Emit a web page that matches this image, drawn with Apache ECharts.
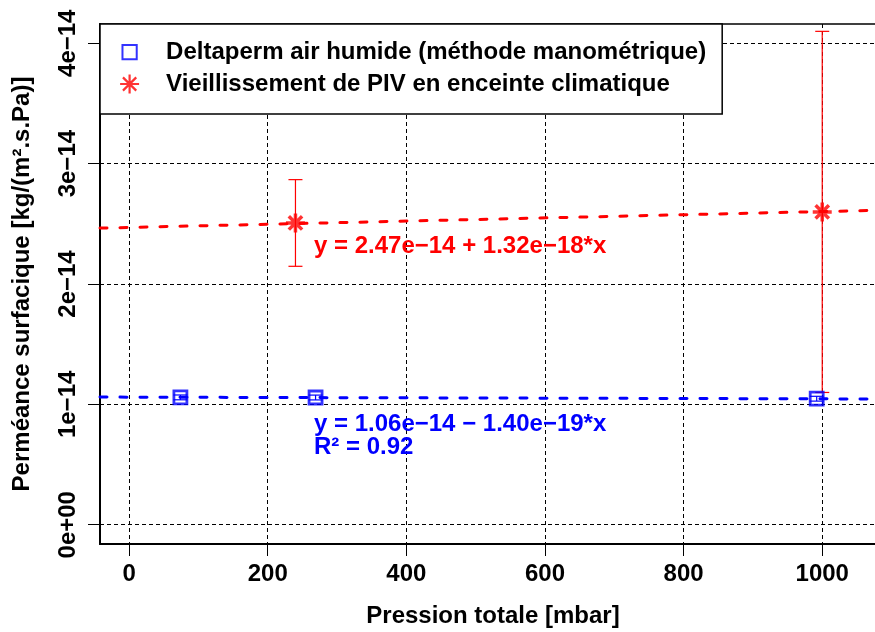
<!DOCTYPE html>
<html>
<head>
<meta charset="utf-8">
<script src="https://cdn.jsdelivr.net/npm/echarts@6/dist/echarts.min.js"></script>
<style>
html,body{margin:0;padding:0;background:#fff;}
#chart{width:875px;height:632px;}
</style>
</head>
<body>
<div id="chart"></div>
<script>
// ---- data ----
const xTicks = [0, 200, 400, 600, 800, 1000];
const xTickLabels = ['0', '200', '400', '600', '800', '1000'];
const yTicks = [0, 1e-14, 2e-14, 3e-14, 4e-14];
const yTickLabels = ['0e+00', '1e\u221214', '2e\u221214', '3e\u221214', '4e\u221214'];

const blueName = 'Deltaperm air humide (méthode manométrique)';
const blueX = [74, 269, 992];
const blueY = [1.058e-14, 1.057e-14, 1.047e-14];
const blueErr = [0.02e-14, 0.02e-14, 0.02e-14];

const redName = 'Vieillissement de PIV en enceinte climatique';
const redX = [240, 1000];
const redY = [2.507e-14, 2.599e-14];
const redErr = [0.36e-14, 1.50e-14];

const blueFitX = [-42, 1092];
const blueFitY = [1.0606e-14, 1.0447e-14];
const redFitX = [-42, 1092];
const redFitY = [2.4645e-14, 2.6141e-14];

const redEq = 'y = 2.47e\u221214 + 1.32e\u221218*x';
const blueEq = 'y = 1.06e\u221214 \u2212 1.40e\u221219*x';
const blueR2 = 'R\u00b2 = 0.92';

const xTitle = 'Pression totale [mbar]';
const yTitle = 'Perméance surfacique [kg/(m\u00b2.s.Pa)]';

// ---- build ----
const FONT = '"Liberation Sans", Arial, Helvetica, sans-serif';
const FS = 24;
const BLUE = '#0000ff', RED = '#ff0000';
const starPath = 'path://M0,10L20,10M10,0L10,20M3,3L17,17M3,17L17,3';
const legendSquare = 'path://M0,0L0,0M20,20L20,20M2.5,2.5L17.5,2.5L17.5,17.5L2.5,17.5Z';

const zip = (a, b) => a.map((v, i) => [v, b[i]]);
const errData = (xs, ys, es) => xs.map((x, i) => [x, ys[i] - es[i], ys[i] + es[i]]);
const pick = (ticks, labels) => function (v) {
  for (let i = 0; i < ticks.length; i++) if (Math.abs(v - ticks[i]) < Math.abs(ticks[1] - ticks[0]) * 1e-6) return labels[i];
  return '';
};

function errRender(color) {
  return function (params, api) {
    const x = api.value(0), lo = api.value(1), hi = api.value(2);
    const pt = api.coord([x, hi]), pb = api.coord([x, lo]);
    const w = 7;
    const st = { stroke: color, lineWidth: 1.2 };
    return {
      type: 'group',
      children: [
        { type: 'line', shape: { x1: pt[0], y1: pt[1], x2: pb[0], y2: pb[1] }, style: st },
        { type: 'line', shape: { x1: pt[0] - w, y1: pt[1], x2: pt[0] + w, y2: pt[1] }, style: st },
        { type: 'line', shape: { x1: pb[0] - w, y1: pb[1], x2: pb[0] + w, y2: pb[1] }, style: st }
      ]
    };
  };
}

const gridLine = { show: true, lineStyle: { color: '#000', width: 1, type: [4, 3] } };

const chart = echarts.init(document.getElementById('chart'), null, { renderer: 'canvas' });
chart.setOption({
  animation: false,
  backgroundColor: '#fff',
  textStyle: { fontFamily: FONT },
  grid: {
    left: 100, right: -11, top: 24, bottom: 88,
    show: true, borderColor: '#000', borderWidth: 1.5,
    containLabel: false, outerBoundsMode: 'none'
  },
  xAxis: {
    type: 'value', min: -42, max: 1092,
    name: xTitle, nameLocation: 'middle', nameGap: 60, nameMoveOverlap: false,
    nameTextStyle: { fontSize: FS, fontWeight: 'bold', color: '#000', fontFamily: FONT },
    axisLine: { show: true, onZero: false, lineStyle: { color: '#000', width: 2 } },
    axisTick: { show: true, customValues: xTicks, length: 12, inside: false, lineStyle: { color: '#000', width: 1 } },
    axisLabel: { customValues: xTicks, margin: 18, fontSize: FS, fontWeight: 'bold', color: '#000', fontFamily: FONT, formatter: pick(xTicks, xTickLabels) },
    splitLine: gridLine
  },
  yAxis: {
    type: 'value', min: -0.16e-14, max: 4.16e-14,
    name: yTitle, nameLocation: 'middle', nameGap: 66, nameMoveOverlap: false,
    nameTextStyle: { fontSize: FS, fontWeight: 'bold', color: '#000', fontFamily: FONT },
    axisLine: { show: true, onZero: false, lineStyle: { color: '#000', width: 2 } },
    axisTick: { show: true, customValues: yTicks, length: 12, inside: false, lineStyle: { color: '#000', width: 1 } },
    axisLabel: {
      customValues: yTicks, rotate: 90, margin: 20, fontSize: FS, fontWeight: 'bold', color: '#000', fontFamily: FONT,
      formatter: pick(yTicks, yTickLabels)
    },
    splitLine: gridLine
  },
  legend: {
    orient: 'vertical', left: 100, top: 24,
    padding: [16, 16, 18, 19], itemGap: 8,
    itemWidth: 19, itemHeight: 19,
    backgroundColor: '#fff', borderColor: '#000', borderWidth: 1.5, borderRadius: 0,
    textStyle: { fontSize: FS, fontWeight: 'bold', color: '#000', fontFamily: FONT, lineHeight: 23, padding: [0, 0, 0, 22] },
    data: [
      { name: blueName, icon: legendSquare, itemStyle: { color: 'transparent', borderColor: BLUE, borderWidth: 2 } },
      { name: redName, icon: starPath, itemStyle: { color: RED, borderColor: RED, borderWidth: 2.2 } }
    ]
  },
  series: [
    {
      type: 'line', data: zip(redFitX, redFitY), symbol: 'none', silent: true,
      lineStyle: { color: RED, width: 3, type: [7, 13], cap: 'round' }, z: 2
    },
    {
      type: 'line', data: zip(blueFitX, blueFitY), symbol: 'none', silent: true,
      lineStyle: { color: BLUE, width: 3, type: [7, 13], cap: 'round' }, z: 2
    },
    {
      type: 'custom', renderItem: errRender(BLUE), data: errData(blueX, blueY, blueErr),
      encode: { x: 0, y: [1, 2] }, silent: true, z: 3
    },
    {
      type: 'custom', renderItem: errRender(RED), data: errData(redX, redY, redErr),
      encode: { x: 0, y: [1, 2] }, silent: true, z: 3
    },
    {
      name: blueName, type: 'scatter', data: zip(blueX, blueY),
      symbol: 'rect', symbolSize: 13,
      itemStyle: { color: 'transparent', borderColor: BLUE, borderWidth: 2.8 }, z: 4
    },
    {
      name: redName, type: 'scatter', data: zip(redX, redY),
      symbol: starPath, symbolSize: 19,
      itemStyle: { color: RED, borderColor: RED, borderWidth: 3.5 }, z: 4
    }
  ],
  graphic: [
    { type: 'text', x: 314, y: 246, style: { text: redEq, fill: RED, font: 'bold ' + FS + 'px ' + FONT, verticalAlign: 'middle' }, z: 10 },
    { type: 'text', x: 314, y: 424, style: { text: blueEq, fill: BLUE, font: 'bold ' + FS + 'px ' + FONT, verticalAlign: 'middle' }, z: 10 },
    { type: 'text', x: 314, y: 447, style: { text: blueR2, fill: BLUE, font: 'bold ' + FS + 'px ' + FONT, verticalAlign: 'middle' }, z: 10 }
  ]
});
</script>
</body>
</html>
